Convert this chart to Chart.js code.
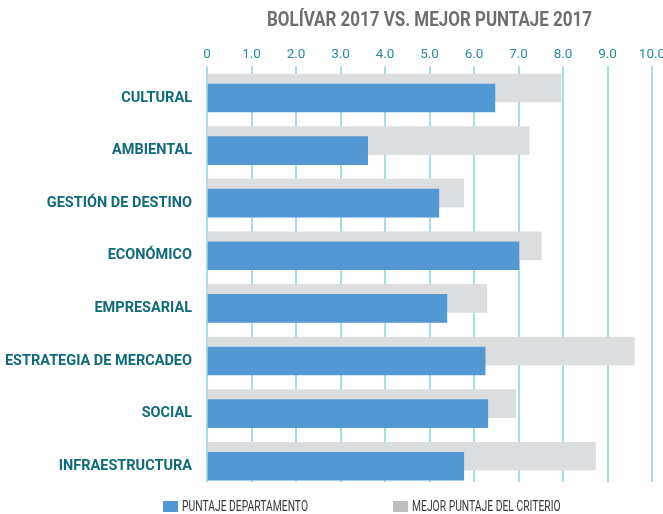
<!DOCTYPE html>
<html>
<head>
<meta charset="utf-8">
<script src="https://cdn.jsdelivr.net/npm/chart.js@4.4.1/dist/chart.umd.min.js"></script>
<style>
  html, body { margin: 0; padding: 0; background: #fff; }
  #wrap { width: 663px; height: 514px; }
</style>
</head>
<body>
<div id="wrap"><canvas id="chart" width="663" height="514"></canvas></div>
<script>
// data
const categories = ['CULTURAL', 'AMBIENTAL', 'GESTIÓN DE DESTINO', 'ECONÓMICO', 'EMPRESARIAL', 'ESTRATEGIA DE MERCADEO', 'SOCIAL', 'INFRAESTRUCTURA'];
const puntajeDepartamento = [6.47, 3.61, 5.21, 7.01, 5.39, 6.25, 6.31, 5.77];
const mejorPuntaje = [7.96, 7.24, 5.77, 7.51, 6.29, 9.60, 6.94, 8.73];
const xTicks = [0, 1, 2, 3, 4, 5, 6, 7, 8, 9, 10];
const titleText = 'BOLÍVAR 2017 VS. MEJOR PUNTAJE 2017';

const BLUE = '#5398d3';
const GRAY = '#dcdddf';
const GRAY_KEY = '#bcbec0';
const FONT = 'Roboto, "Noto Sans", sans-serif';

const toPoints = arr => arr.map((v, i) => ({ x: v, y: i }));

// no condensed face installed, so title and legend are squeezed horizontally
const chrome = {
  id: 'chrome',
  afterDraw(chart) {
    const { ctx, chartArea } = chart;
    ctx.save();
    ctx.fillStyle = '#6d6e70';
    ctx.font = 'bold 21px ' + FONT;
    ctx.textBaseline = 'middle';
    ctx.textAlign = 'center';
    let sx = 325 / ctx.measureText(titleText).width;
    ctx.save();
    ctx.translate((chartArea.left + chartArea.right) / 2, 21);
    ctx.scale(sx, 1);
    ctx.fillText(titleText, 0, 0);
    ctx.restore();

    const items = chart.data.datasets.map(ds => ({ text: ds.label, color: ds.keyColor }));
    ctx.font = '15px ' + FONT;
    ctx.textAlign = 'left';
    sx = 126 / ctx.measureText(items[0].text).width;
    let x = chartArea.left - 44;
    items.forEach(it => {
      ctx.fillStyle = it.color;
      ctx.fillRect(x, 501, 15, 11);
      ctx.fillStyle = '#3a3a3a';
      ctx.save();
      ctx.translate(x + 19, 507);
      ctx.scale(sx, 1);
      ctx.fillText(it.text, 0, 0);
      ctx.restore();
      x += 19 + ctx.measureText(it.text).width * sx + 85;
    });
    ctx.restore();
  }
};

new Chart(document.getElementById('chart'), {
  type: 'bar',
  data: {
    datasets: [
      {
        label: 'PUNTAJE DEPARTAMENTO',
        data: toPoints(puntajeDepartamento),
        backgroundColor: BLUE,
        keyColor: BLUE,
        yAxisID: 'y',
        barThickness: 28,
        grouped: false
      },
      {
        label: 'MEJOR PUNTAJE DEL CRITERIO',
        data: toPoints(mejorPuntaje),
        backgroundColor: GRAY,
        keyColor: GRAY_KEY,
        yAxisID: 'y2',
        barThickness: 28,
        grouped: false
      }
    ]
  },
  options: {
    indexAxis: 'y',
    responsive: false,
    animation: false,
    layout: { padding: { top: 44, bottom: 32, left: 0, right: 0 } },
    plugins: {
      legend: { display: false },
      title: { display: false },
      tooltip: { enabled: false }
    },
    scales: {
      x: {
        type: 'linear',
        position: 'top',
        min: 0,
        max: 10,
        afterBuildTicks: scale => { scale.ticks = xTicks.map(v => ({ value: v })); },
        afterFit: scale => { scale.paddingRight = 11; },
        ticks: {
          color: '#2a8a9a',
          font: { family: FONT, size: 13.5 },
          padding: 3,
          callback: v => v === 0 ? '0' : v.toFixed(1)
        },
        grid: { color: '#a9dde4', lineWidth: 2, tickLength: 6 },
        border: { display: false }
      },
      y: {
        type: 'linear',
        position: 'left',
        reverse: true,
        offset: false,
        bounds: 'data',
        min: -0.49,
        max: 7.30,
        afterBuildTicks: scale => { scale.ticks = categories.map((c, i) => ({ value: i })); },
        afterFit: scale => { scale.width = 207; },
        ticks: {
          color: '#0f6b78',
          font: { family: FONT, size: 14.5, weight: 'bold' },
          padding: 7,
          callback: v => categories[v]
        },
        grid: { display: false, offset: false },
        border: { display: false }
      },
      y2: {
        type: 'linear',
        display: false,
        reverse: true,
        offset: false,
        bounds: 'data',
        min: -0.30,
        max: 7.49,
        grid: { offset: false }
      }
    }
  },
  plugins: [chrome]
});
</script>
</body>
</html>
